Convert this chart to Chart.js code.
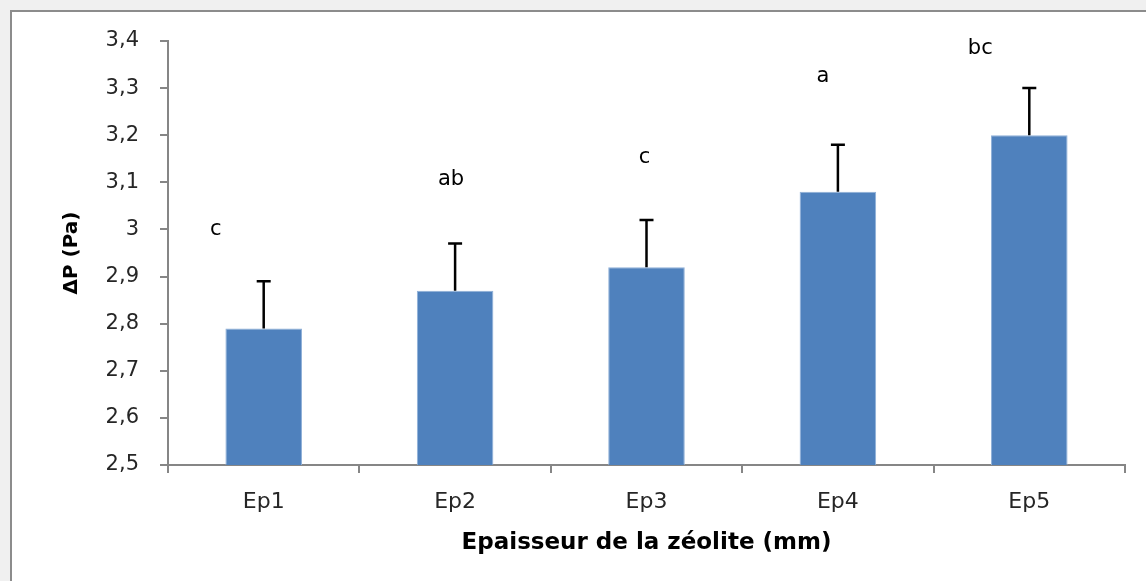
<!DOCTYPE html>
<html>
<head>
  <title>Epaisseur de la zéolite</title>
  <script src="https://cdn.jsdelivr.net/npm/chart.js@4.4.0/dist/chart.umd.min.js"></script>
  <style>
    html, body { margin: 0; padding: 0; background: #f0f0f0; overflow: hidden; }
    #frame { position: absolute; left: 10px; top: 10px; width: 2000px; height: 2000px;
             border: 2px solid #8c8c8c; background: #ffffff; }
    #wrap { position: absolute; left: 0; top: 0; width: 1146px; height: 581px; }
  </style>
</head>
<body>
  <div id="frame"></div>
  <div id="wrap"><canvas id="chart"></canvas></div>
  <script>
    // data
    var categories = ["Ep1", "Ep2", "Ep3", "Ep4", "Ep5"];
    var deltaP = [2.79, 2.87, 2.92, 3.08, 3.20];
    var errUp = [0.10, 0.10, 0.10, 0.10, 0.10];
    var letters = ["c", "ab", "c", "a", "bc"];
    var letterY = [3.0, 3.105, 3.152, 3.324, 3.385];
    var letterDx = [-48, -4, -2, -15, -49];

    var axisGray = "#868686";
    var fontFam = "'DejaVu Sans'";

    // error bars (upper only) and significance letters
    var extras = {
      id: "extras",
      afterDatasetsDraw: function (chart) {
        var ctx = chart.ctx;
        var x = chart.scales.x, y = chart.scales.y;
        ctx.save();
        ctx.strokeStyle = "#000";
        ctx.lineWidth = 2.5;
        for (var i = 0; i < deltaP.length; i++) {
          var px = x.getPixelForValue(i);
          var y0 = y.getPixelForValue(deltaP[i]);
          var y1 = y.getPixelForValue(deltaP[i] + errUp[i]);
          ctx.beginPath();
          ctx.moveTo(px, y0);
          ctx.lineTo(px, y1);
          ctx.moveTo(px - 7, y1);
          ctx.lineTo(px + 7, y1);
          ctx.stroke();
        }
        ctx.fillStyle = "#000";
        ctx.font = "21px " + fontFam;
        ctx.textAlign = "center";
        ctx.textBaseline = "middle";
        for (var j = 0; j < letters.length; j++) {
          ctx.fillText(letters[j], x.getPixelForValue(j) + letterDx[j], y.getPixelForValue(letterY[j]));
        }
        ctx.restore();
      }
    };

    var ctx = document.getElementById("chart").getContext("2d");
    var chart = new Chart(ctx, {
      type: "bar",
      data: {
        labels: categories,
        datasets: [{
          label: "ΔP",
          data: deltaP,
          backgroundColor: "#4f81bd",
          borderColor: "#8fb0d8",
          borderWidth: 1,
          categoryPercentage: 1.0,
          barPercentage: 0.4
        }]
      },
      options: {
        responsive: true,
        maintainAspectRatio: false,
        animation: false,
        layout: { padding: { left: 0, top: 41, right: 21, bottom: 0 } },
        plugins: { legend: { display: false }, tooltip: { enabled: false } },
        scales: {
          x: {
            offset: true,
            grid: { display: true, offset: true, drawOnChartArea: false, tickLength: 8, color: axisGray, lineWidth: 2 },
            border: { display: true, color: axisGray, width: 2 },
            ticks: { color: "#262626", padding: 16, font: { family: fontFam, size: 22 } },
            title: {
              display: true,
              text: "Epaisseur de la zéolite (mm)",
              color: "#000",
              font: { family: fontFam, size: 23, weight: "bold" },
              padding: { top: 0, bottom: 24 }
            },
            afterFit: function (scale) { scale.height = 116; }
          },
          y: {
            min: 2.5,
            max: 3.4,
            grid: { display: true, drawOnChartArea: false, tickLength: 8, color: axisGray, lineWidth: 2 },
            border: { display: true, color: axisGray, width: 2 },
            ticks: {
              stepSize: 0.1,
              color: "#262626",
              padding: 21,
              font: { family: fontFam, size: 21 },
              callback: function (v) {
                return (Math.round(v * 10) / 10).toString().replace(".", ",");
              }
            },
            title: {
              display: true,
              text: "ΔP (Pa)",
              color: "#000",
              font: { family: fontFam, size: 20, weight: "bold" },
              padding: { top: 60, bottom: 0 }
            },
            afterFit: function (scale) { scale.width = 168; }
          }
        }
      },
      plugins: [extras]
    });
  </script>
</body>
</html>
